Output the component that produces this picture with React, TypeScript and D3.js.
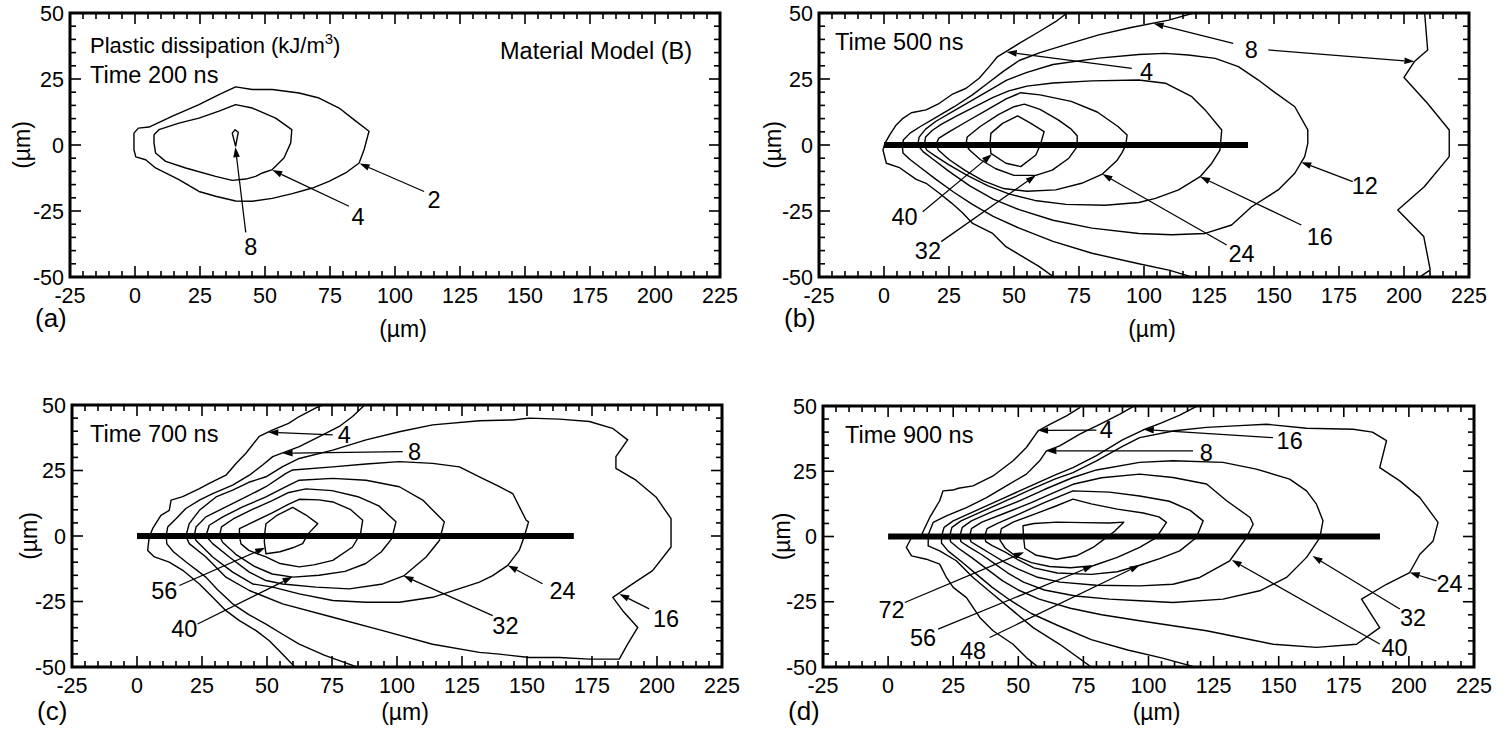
import React from "react";
import * as d3 from "d3";

type Pt = [number, number];
type Callout = { text: string; at: Pt; leaders: [Pt, Pt][] };

// Axis ticks (µm)
const xMajorTicks = [-25, 0, 25, 50, 75, 100, 125, 150, 175, 200, 225];
const yMajorTicks = [-50, -25, 0, 25, 50];
const minorStep = 5;

// ---------- (a) Time 200 ns ----------
const a2: Pt[] = [[-0.4,4.5],[1.3,6.4],[5.4,6.8],[14.4,10.9],[24.6,15.3],[32.3,19.1],[38.7,22.0],[45.1,21.0],[52.8,21.0],[63.1,19.7],[70.8,17.8],[78.5,14.0],[84.2,9.6],[90.0,5.2],[88.1,-1.8],[86.2,-6.8],[81.0,-10.6],[74.6,-13.8],[68.2,-16.3],[60.5,-18.4],[52.8,-20.2],[45.1,-21.3],[38.7,-21.2],[31.0,-19.4],[24.6,-17.6],[16.9,-13.1],[7.9,-8.7],[4.1,-5.6],[0.3,-4.5],[-0.4,-1.8],[-0.4,4.5]];
const a4: Pt[] = [[7.3,3.9],[9.2,5.8],[16.9,8.3],[24.6,10.2],[32.3,12.8],[38.7,15.3],[45.1,14.0],[54.1,10.2],[60.3,5.8],[59.9,0.8],[57.3,-4.9],[52.8,-9.3],[49.0,-10.6],[46.4,-11.9],[42.6,-12.9],[37.4,-13.4],[31.0,-11.9],[19.5,-8.7],[11.8,-6.2],[7.9,-3.0],[7.3,0.8],[7.3,3.9]];
const a8: Pt[] = [[38.7,-0.5],[37.4,4.5],[38.5,5.8],[39.7,4.8],[38.7,-0.5]];
const calloutsA: Callout[] = [
  { text: "8", at: [44.5,-38.4], leaders: [[[42.6,-33.1],[38.6,-0.8]]] },
  { text: "4", at: [85.8,-27.0], leaders: [[[82.3,-23.2],[52.8,-9.5]]] },
  { text: "2", at: [115.0,-20.7], leaders: [[[111.2,-17.6],[86.4,-7.0]]] },
];

// ---------- (b) Time 500 ns ----------
const b4: Pt[] = [[71.1,50.5],[66,46.7],[59.6,42.9],[52,38.5],[46.9,35.4],[43.7,33.5],[40.5,29.7],[36.6,25.3],[31.6,21.5],[26.4,19.3],[21.3,15.8],[16.2,13.3],[10.5,12.2],[7.3,10.1],[4.7,7.6],[2.2,3.8],[0.3,0.5],[-0.4,-1.9],[0.9,-6.9],[6,-8.6],[12.4,-13],[16.2,-14.5],[21.3,-18.3],[26,-22],[30,-25.5],[34.1,-29.7],[41.8,-33.5],[46.9,-38.5],[52,-41.5],[59.6,-46],[66,-50.5]];
const b8: Pt[] = [[121,50.5],[109.5,47.3],[95,44.5],[82.6,41.7],[70,38],[60,35],[52,32],[46,28],[40,23.5],[34,19],[27,14.5],[20,10.5],[14,7],[10,4.5],[7.5,2],[7,0],[7.3,-3],[10,-5.5],[14,-8.5],[20,-13],[27,-18],[34,-22.5],[42,-27],[52,-31.5],[65,-36.5],[80,-41],[98,-45],[110,-47.5],[120,-50.5]];
const b8Far: Pt[] = [[207.9,50.5],[209.1,36],[204,31.6],[200,25.6],[209,15.8],[217.4,5.7],[217.4,-4.4],[207.8,-15.8],[197.6,-24.6],[207.6,-34.7],[210.1,-47.3],[205.3,-50.5]];
const b12: Pt[] = [[13,0],[13.5,3],[16,6],[20,9],[27,13],[34,17],[41,21],[47,24.5],[55,27.5],[65,30.5],[82.6,32.9],[98,34.3],[108,34.7],[117,34.1],[127.4,32.8],[136.3,29.7],[144,24.6],[149.5,20.5],[158,14.5],[163,5.7],[163,0.6],[161.8,-4.4],[158,-10.7],[151.6,-17],[141.4,-23.4],[133.7,-30.3],[123.5,-33.5],[110.7,-34],[98,-33.5],[80,-31.5],[65,-28.5],[52,-24.5],[42,-20.5],[33,-15.5],[25,-10],[19,-5.5],[15,-2.5],[13,0]];
const b16: Pt[] = [[15.5,0],[16,3],[18.5,5.5],[22,7.8],[28,11],[35,14.5],[42,18],[48,20.5],[55,22.3],[65,23.5],[80,24.3],[98,24.6],[108.2,23.4],[118.4,18.3],[123.5,13.3],[129.9,5.7],[129.2,-1.9],[126.1,-6.9],[121.6,-12],[113.3,-17],[104.4,-20.2],[98,-21.8],[85,-22.8],[70,-22.5],[58,-21],[48,-18.5],[40,-15.5],[32,-11.5],[25,-7.5],[19.5,-4],[16.5,-2],[15.5,0]];
const b24: Pt[] = [[20,0],[21,2.5],[25,5],[32,9],[40,13.5],[47,17.5],[52.6,19.8],[60,19],[72,16.5],[82,12.5],[90,7],[93.5,3.8],[93,0],[91.5,-3],[89.5,-6],[84,-11],[76,-14.5],[66,-17],[55,-17.5],[46,-16.5],[38,-13.5],[31,-9.5],[25,-5.5],[21,-2],[20,0]];
const b32: Pt[] = [[31.5,0],[32,3],[37,7],[44,11.5],[50,14.5],[54,15.5],[60,13.5],[67,9.5],[72,6],[74.3,3.5],[74.3,-0.6],[71.1,-5],[64.7,-9.5],[58.4,-11.5],[50,-11.5],[43,-9],[37,-5.5],[33,-2],[31.5,0]];
const b40: Pt[] = [[40.8,0.6],[41.1,4.4],[45.6,8.2],[51.4,11],[56.5,8.2],[61.6,5.1],[60.3,0.6],[58.4,-3.8],[52.6,-8.2],[46.9,-6.9],[41.1,-3.2],[40.8,0.6]];
const crackB = 140;
const calloutsB: Callout[] = [
  { text: "4", at: [101,27.7], leaders: [[[95.3,29],[47.2,35.2]]] },
  { text: "8", at: [141.3,36], leaders: [[[134.3,38.5],[103.7,46]], [[147.8,36],[204,31.6]]] },
  { text: "12", at: [184.9,-15.2], leaders: [[[180.3,-13.9],[160.5,-6.5]]] },
  { text: "16", at: [167.6,-34.7], leaders: [[[160.5,-30.3],[121.6,-12]]] },
  { text: "24", at: [137.5,-41], leaders: [[[131.8,-37.9],[84,-11]]] },
  { text: "40", at: [7.9,-27.2], leaders: [[[14.9,-25.3],[41.5,-3.5]]] },
  { text: "32", at: [16.9,-39.8], leaders: [[[22,-36.6],[58.4,-11.5]]] },
];

// ---------- (c) Time 700 ns ----------
const c4: Pt[] = [[72.7,50.5],[68.8,48.9],[62.4,45.6],[58.3,43],[52.2,40.5],[47,38],[41.9,31.6],[38.1,27.7],[34.2,23.2],[27.8,20.1],[24,18.1],[17.6,15],[13.1,13.7],[12.4,9.8],[9.2,7.9],[6,2.8],[4.7,-0.4],[4.1,-5.5],[6.7,-8],[12.4,-10],[17.6,-13.1],[24,-18.3],[29.1,-23.4],[34.2,-28.5],[39.4,-32.3],[45.8,-36.1],[50.9,-40],[56,-45.1],[61.2,-50.5]];
const c8: Pt[] = [[88.1,50.5],[82.9,45.6],[77.8,41.8],[70.1,37.9],[62.4,34.1],[57.3,32.2],[52.2,30.3],[48.3,27.1],[43.2,23.2],[36.8,19.4],[29.1,16.2],[24,13.7],[18.8,10.5],[15,6.6],[11.8,3.4],[11.2,0],[11.5,-3],[14,-6],[19,-10],[26.5,-15.7],[31,-20.5],[36.8,-25.9],[43,-30],[49.6,-33.6],[56,-37.5],[62.4,-41.3],[72,-45.5],[86,-50.5]];
const c16: Pt[] = [[18.8,0],[20.1,4.7],[24,9.8],[30.4,14.9],[36.8,17.5],[43,20.5],[49.6,22.6],[56,26.5],[62.4,29.6],[75.3,32.8],[88.1,36.7],[100.9,39.8],[113.7,42.4],[131.7,44],[144.5,44.3],[150.9,45],[162.4,44.6],[174,43.7],[182.9,41.1],[188.7,36.7],[184.2,30.3],[184.2,25.8],[191.9,21.3],[199.6,14.9],[205.4,6.6],[205.4,-4.2],[198.3,-13.2],[190.6,-18.3],[183,-23.4],[186.8,-28.5],[192.6,-34.9],[188.7,-41.3],[185.5,-47],[174,-47],[162.4,-46.4],[150.9,-46.4],[139.4,-45.1],[131.7,-44.4],[113.7,-41.3],[94.5,-36.1],[75.3,-31],[56,-25.9],[43.2,-20.8],[34.2,-15.7],[26.5,-8],[20.1,-2.9],[18.8,0]];
const c24: Pt[] = [[22,0],[22.7,3.4],[26.5,7.3],[34.2,11.1],[41.9,14.9],[49.6,18.8],[57.3,23.9],[59.9,25.2],[75.3,26.4],[88.1,27.5],[100.9,28.4],[113.7,27.7],[124,26.4],[131.7,22.6],[139.4,18.8],[144.5,16.2],[149.7,6],[150.6,5.4],[148.9,-0.4],[147,-5.5],[142.6,-11.2],[136.8,-15.1],[131.7,-17.6],[113.7,-23.4],[100.9,-25.3],[88.1,-25.3],[75.3,-24.6],[62.4,-22.1],[52.2,-19.5],[44.5,-18.3],[36.8,-13.8],[29.1,-8],[22.7,-1.7],[22,0]];
const c32: Pt[] = [[26.5,0],[27.8,4.1],[33,7.3],[40.6,11.1],[49.6,14.9],[57.3,18.8],[62.4,21.3],[75.3,22],[88.1,21.3],[100.9,18.8],[109.9,13.7],[118.2,5.4],[116.3,-1.7],[111.2,-8],[102.8,-15.1],[94.5,-18.3],[81.7,-20.2],[68.8,-19.5],[56,-18.3],[49.6,-17],[43.2,-13.8],[35.5,-8],[29.1,-2.9],[26.5,0]];
const c40: Pt[] = [[31.7,0],[32.5,3.5],[37,6.5],[44,10],[52,13.5],[58,16.5],[65,18],[75,17.3],[85,15],[93,11.5],[99.6,5.4],[98,-1],[94,-6],[88,-10.5],[80,-13.5],[70,-15],[60,-15.7],[52,-14.5],[45,-11.5],[38,-7],[33,-2.5],[31.7,0]];
const c48: Pt[] = [[39.4,0],[39.4,2.8],[45,5.5],[52,8.8],[58,12],[62.4,14],[70,13.8],[75.3,13],[82,10.2],[86.8,6],[86,1],[82.9,-4.2],[75.3,-9.3],[68,-11],[62.4,-11.8],[55,-10.5],[49.6,-8],[43,-5.5],[40,-3],[39.4,0]];
const c56: Pt[] = [[49,0],[49.6,4.7],[54,8],[59.9,10.9],[65,8],[69.5,4.7],[66,1],[63.7,-2.9],[59.9,-4.5],[55,-6],[49.6,-6.8],[49,-2.5],[49,0]];
const crackC = 168;
const calloutsC: Callout[] = [
  { text: "4", at: [79.7,38.6], leaders: [[[75.3,38.6],[50.5,39.6]]] },
  { text: "8", at: [106.7,32.2], leaders: [[[102.2,32.2],[56,31.6]]] },
  { text: "56", at: [10.5,-20.8], leaders: [[[16.3,-18.9],[49.3,-4.5]]] },
  { text: "40", at: [18.2,-35.5], leaders: [[[23.3,-33.6],[59.8,-15.6]]] },
  { text: "32", at: [141.7,-34.2], leaders: [[[136.8,-30.4],[102.5,-15.2]]] },
  { text: "24", at: [163.7,-20.8], leaders: [[[156,-18.2],[142.6,-11.2]]] },
  { text: "16", at: [203.5,-31.6], leaders: [[[197,-27.8],[185.5,-22.1]]] },
];

// ---------- (d) Time 900 ns ----------
const d4: Pt[] = [[74,50.5],[73.6,49.4],[68.5,46.2],[62.1,43],[57.6,40.5],[53.1,34.1],[48,29],[40.3,23.2],[32.6,19.4],[27,18.5],[24.9,17.8],[21.1,17.5],[19.8,13.7],[16,7.3],[12.8,0.6],[9,-0.4],[7,-4.2],[9,-7.4],[14.7,-8.7],[19.8,-10.6],[22.4,-15.7],[25,-19.5],[30.1,-23.4],[35.2,-31],[40.3,-36.1],[48,-41.3],[53.1,-46.4],[58.2,-50.5]];
const d8: Pt[] = [[95.4,50.5],[89,46.9],[81.3,43],[73.6,39.2],[65.9,34.7],[60.8,32.8],[58.2,29],[53.1,23.9],[45.4,19.4],[37.8,14.9],[30.1,11.1],[22.4,7.9],[17.3,5.4],[15.4,0.6],[15.4,-3.6],[19.8,-5.5],[26.2,-9.3],[32.6,-15.7],[40.3,-22.1],[48,-28.5],[55.7,-34.9],[65.9,-41.3],[78.7,-50.5]];
const d16: Pt[] = [[119.7,50.5],[112,46.5],[105,43.5],[97.9,40.8],[90,37],[80,31],[71,26.4],[64,23.5],[55,19.5],[45,15],[35,10.5],[25,6],[21.5,3.5],[20.5,0],[20.5,-2.5],[23,-5.5],[28,-9.5],[34,-14.5],[40,-19.5],[47,-24.5],[55,-29.5],[65,-34],[78,-39.5],[92,-43.5],[105,-46.5],[119.7,-50.5]];
const d24: Pt[] = [[23.6,0],[24.5,3.5],[28,6],[37,10],[46,14],[56,18.5],[64,22],[71,24.5],[80,29],[90,34.5],[96.6,37.9],[110,40.5],[122.3,41.8],[135,42.5],[145.3,43],[160.7,41.5],[178.6,41.1],[186,40],[191.4,36.7],[188.8,26.4],[196.5,21.3],[204.2,14.9],[211.2,5.4],[209.3,-1.7],[204.2,-6.8],[200.3,-13.8],[191.4,-18.3],[181.8,-24],[188.8,-34.9],[179.9,-41.3],[164.5,-42.5],[147.9,-41.3],[135.1,-38.7],[122.3,-36.1],[109.4,-34.2],[96.6,-32.3],[82,-30],[70,-27.5],[58,-24],[50,-20.5],[44,-17],[38,-12.5],[32,-8],[27,-4.5],[24,-2],[23.6,0]];
const d32: Pt[] = [[27.5,0],[28.5,3.5],[32,6],[40,9.5],[50,13.5],[60,18],[71,22.6],[80,25.5],[96.6,28.4],[109.4,29],[128.6,28.4],[141.4,25.8],[154.2,22],[160.7,17.5],[164.5,12.4],[167,6],[165.8,-0.4],[160.7,-8],[153,-15.7],[142.7,-20.8],[128.6,-24],[109.4,-25.3],[96.6,-24.6],[85,-24],[72,-22.8],[60,-20.5],[52,-17.5],[46,-14],[41,-10.5],[36,-7],[31,-4],[28,-2],[27.5,0]];
const d40: Pt[] = [[31.3,0],[32,3],[36,5.5],[45,9],[55,13],[63,16.5],[71,20],[82,22.5],[96.6,23.9],[109.4,22.6],[122.3,20.1],[130,13.7],[139,7.3],[140.2,4.7],[137.6,-0.4],[131.2,-9.3],[119.7,-15.7],[109.4,-18.3],[96.6,-18.9],[80,-18.7],[66,-17.5],[57,-15.5],[50,-12.5],[45,-10],[40,-7],[35,-4],[31.8,-2],[31.3,0]];
const d48: Pt[] = [[37.1,0],[38,3],[42,5],[50,8.5],[60,13],[71,17.5],[85,17],[96.6,15.5],[108,13.5],[116,10],[121,6],[118.4,-0.4],[112,-5.5],[104.3,-8.5],[96.6,-11],[88,-13.5],[78,-14.5],[65,-14],[56,-12],[50,-9],[45,-6],[40,-3.5],[37.5,-2],[37.1,0]];
const d56: Pt[] = [[42.9,0],[43.5,3],[48,5.5],[56,8.5],[64,11.5],[71,14.3],[78,12.5],[88,10.5],[98,9],[104,7.5],[106.9,5.4],[103,-0.4],[96.6,-4.2],[88,-8],[78.7,-11.2],[70,-12],[62,-11.5],[55,-10],[49,-7.5],[45,-4.5],[43,-1.5],[42.9,0]];
const d72: Pt[] = [[52,0],[51.8,4.1],[56,5],[65,5.5],[75,5.3],[85,5.2],[90.5,5.5],[87,2],[83,-1],[78.7,-4.2],[72.3,-7.4],[64.7,-8.7],[56.9,-7.2],[52.5,-4.5],[52,0]];
const crackD = 188.9;
const calloutsD: Callout[] = [
  { text: "4", at: [83.8,41.1], leaders: [[[80,40.8],[57.6,40.6]]] },
  { text: "8", at: [122.2,32.2], leaders: [[[117.1,32.8],[60.8,32.8]]] },
  { text: "16", at: [154.2,36.7], leaders: [[[147.8,37.9],[98.2,41]]] },
  { text: "24", at: [215.6,-18.2], leaders: [[[210.6,-17],[200.3,-13.8]]] },
  { text: "32", at: [201.6,-31], leaders: [[[196.5,-27.8],[163,-7.5]]] },
  { text: "40", at: [194.5,-42.5], leaders: [[[188.8,-41.2],[132,-9]]] },
  { text: "72", at: [1.3,-27.8], leaders: [[[6.4,-25.3],[52.2,-6]]] },
  { text: "56", at: [13.4,-38.7], leaders: [[[19.2,-35.5],[78.7,-11.2]]] },
  { text: "48", at: [32.6,-43.8], leaders: [[[39,-38.7],[96.6,-11]]] },
];

const FONT = "'Liberation Sans', Arial, Helvetica, sans-serif";

type Frame = { left: number; top: number; width: number; height: number };

function Arrow({ from, to }: { from: Pt; to: Pt }) {
  const dx = to[0] - from[0];
  const dy = to[1] - from[1];
  const len = Math.hypot(dx, dy) || 1;
  const ux = dx / len, uy = dy / len;
  const L = 10, W = 3.3;
  const bx = to[0] - ux * L, by = to[1] - uy * L;
  const nx = -uy, ny = ux;
  return (
    <g>
      <line x1={from[0]} y1={from[1]} x2={bx} y2={by} stroke="#000" strokeWidth={1.25} />
      <polygon points={`${to[0]},${to[1]} ${bx + nx * W},${by + ny * W} ${bx - nx * W},${by - ny * W}`} fill="#000" />
    </g>
  );
}

type PanelProps = {
  id: string;
  frame: Frame;
  contours: Pt[][];
  crackEnd?: number;
  callouts: Callout[];
  letter: string;
  letterDy: number;
  xTitleDy: number;
  yTitleDx: number;
  children?: React.ReactNode;
};

function Panel({ id, frame, contours, crackEnd, callouts, letter, letterDy, xTitleDy, yTitleDx, children }: PanelProps) {
  const x = d3.scaleLinear().domain([-25, 225]).range([frame.left, frame.left + frame.width]);
  const y = d3.scaleLinear().domain([-50, 50]).range([frame.top + frame.height, frame.top]);
  const line = d3.line<Pt>().x((d) => x(d[0])).y((d) => y(d[1]));
  const bottom = frame.top + frame.height;
  const right = frame.left + frame.width;
  const xt = d3.range(-25, 226, minorStep);
  const yt = d3.range(-50, 51, minorStep);
  const isMajorX = (v: number) => xMajorTicks.includes(v);
  const isMajorY = (v: number) => yMajorTicks.includes(v);
  const MAJ = 11, MIN = 6;

  return (
    <g>
      <defs>
        <clipPath id={`clip-${id}`}>
          <rect x={frame.left} y={frame.top} width={frame.width} height={frame.height} />
        </clipPath>
      </defs>
      <g clipPath={`url(#clip-${id})`}>
        {contours.map((c, i) => (
          <path key={i} d={line(c) || ""} fill="none" stroke="#000" strokeWidth={1.4} strokeLinejoin="round" />
        ))}
        {crackEnd !== undefined && (
          <line x1={x(0)} y1={y(0)} x2={x(crackEnd)} y2={y(0)} stroke="#000" strokeWidth={6} />
        )}
      </g>
      {/* ticks on all four sides, pointing inward */}
      {xt.map((v) => {
        const len = isMajorX(v) ? MAJ : MIN;
        return (
          <g key={`xt${v}`} stroke="#000" strokeWidth={1.6}>
            <line x1={x(v)} x2={x(v)} y1={bottom} y2={bottom - len} />
            <line x1={x(v)} x2={x(v)} y1={frame.top} y2={frame.top + len} />
          </g>
        );
      })}
      {yt.map((v) => {
        const len = isMajorY(v) ? MAJ : MIN;
        return (
          <g key={`yt${v}`} stroke="#000" strokeWidth={1.6}>
            <line x1={frame.left} x2={frame.left + len} y1={y(v)} y2={y(v)} />
            <line x1={right} x2={right - len} y1={y(v)} y2={y(v)} />
          </g>
        );
      })}
      <rect x={frame.left} y={frame.top} width={frame.width} height={frame.height} fill="none" stroke="#000" strokeWidth={3} />
      {/* tick labels */}
      {xMajorTicks.map((v) => (
        <text key={`xl${v}`} x={x(v)} y={bottom + 26} textAnchor="middle" fontSize={21.5} fontFamily={FONT}>{v}</text>
      ))}
      {yMajorTicks.map((v) => (
        <text key={`yl${v}`} x={frame.left - 6} y={y(v)} dy="0.36em" textAnchor="end" fontSize={21.5} fontFamily={FONT}>{v}</text>
      ))}
      {/* axis titles */}
      <text x={x(100) + 8} y={bottom + xTitleDy} textAnchor="middle" fontSize={23} fontFamily={FONT}>(µm)</text>
      <text
        transform={`translate(${frame.left - yTitleDx},${y(0)}) rotate(-90)`}
        textAnchor="middle"
        dy="0.36em"
        fontSize={23}
        fontFamily={FONT}
      >
        (µm)
      </text>
      <text x={frame.left - 35} y={bottom + letterDy} fontSize={26} fontFamily={FONT}>{letter}</text>
      {/* contour value callouts */}
      {callouts.map((c, i) => (
        <g key={`co${i}`}>
          {c.leaders.map(([f, t], j) => (
            <Arrow key={j} from={[x(f[0]), y(f[1])]} to={[x(t[0]), y(t[1])]} />
          ))}
          <text x={x(c.at[0])} y={y(c.at[1])} dy="0.36em" textAnchor="middle" fontSize={23.5} fontFamily={FONT}>{c.text}</text>
        </g>
      ))}
      {children}
    </g>
  );
}

const frameA: Frame = { left: 70, top: 13, width: 650, height: 264 };
const frameB: Frame = { left: 819, top: 13, width: 650, height: 264 };
const frameC: Frame = { left: 72, top: 405, width: 650, height: 262 };
const frameD: Frame = { left: 823, top: 406, width: 651, height: 261 };

export default function App() {
  const t = { fontSize: 23.5, fontFamily: FONT };
  return (
    <svg
      width={1507}
      height={730}
      viewBox="0 0 1507 730"
      style={{ position: "absolute", left: 0, top: 0, background: "#fff" }}
    >
      <rect x={0} y={0} width={1507} height={730} fill="#fff" />
      <Panel id="a" frame={frameA} contours={[a2, a4, a8]} callouts={calloutsA} letter="(a)" letterDy={50} xTitleDy={60} yTitleDx={48}>
        <text x={frameA.left + 20} y={frameA.top + 40} fontSize={22} fontFamily={FONT}>
          Plastic dissipation (kJ/m<tspan dy={-9} fontSize={15}>3</tspan><tspan dy={9}>)</tspan>
        </text>
        <text x={frameA.left + 20} y={frameA.top + 70} {...t}>Time 200 ns</text>
        <text x={frameA.left + 430} y={frameA.top + 46} {...t}>Material Model (B)</text>
      </Panel>
      <Panel id="b" frame={frameB} contours={[b4, b8, b8Far, b12, b16, b24, b32, b40]} crackEnd={crackB} callouts={calloutsB} letter="(b)" letterDy={50} xTitleDy={60} yTitleDx={46}>
        <text x={frameB.left + 16} y={frameB.top + 37} {...t}>Time 500 ns</text>
      </Panel>
      <Panel id="c" frame={frameC} contours={[c4, c8, c16, c24, c32, c40, c48, c56]} crackEnd={crackC} callouts={calloutsC} letter="(c)" letterDy={53} xTitleDy={53} yTitleDx={43}>
        <text x={frameC.left + 18} y={frameC.top + 37} {...t}>Time 700 ns</text>
      </Panel>
      <Panel id="d" frame={frameD} contours={[d4, d8, d16, d24, d32, d40, d48, d56, d72]} crackEnd={crackD} callouts={calloutsD} letter="(d)" letterDy={53} xTitleDy={53} yTitleDx={41}>
        <text x={frameD.left + 22} y={frameD.top + 37} {...t}>Time 900 ns</text>
      </Panel>
    </svg>
  );
}
